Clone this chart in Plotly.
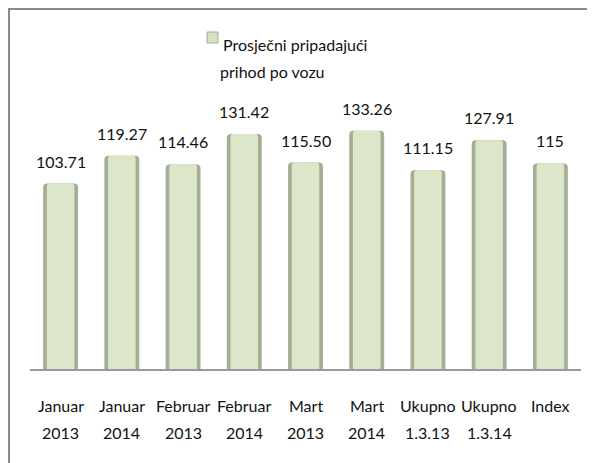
import plotly.graph_objects as go

categories = ["Januar 2013", "Januar 2014", "Februar 2013", "Februar 2014",
              "Mart 2013", "Mart 2014", "Ukupno 1.3.13", "Ukupno 1.3.14", "Index"]
label_line1 = ["Januar", "Januar", "Februar", "Februar", "Mart", "Mart", "Ukupno", "Ukupno", "Index"]
label_line2 = ["2013", "2014", "2013", "2014", "2013", "2014", "1.3.13", "1.3.14", ""]
values = [103.71, 119.27, 114.46, 131.42, 115.50, 133.26, 111.15, 127.91, 115]
value_labels = ["103.71", "119.27", "114.46", "131.42", "115.50", "133.26", "111.15", "127.91", "115"]
series_name_lines = ["Prosječni pripadajući", "prihod po vozu"]

OFF = 8  # default page body margin
W, H = 595 - OFF, 463 - OFF
ML, MR, MT, MB = 22, 14, 75, 94
PW, PH = W - ML - MR, H - MT - MB
FONT = "Lato, Noto Sans, sans-serif"
FS = 16


def px2x(px):
    return (px - OFF - ML) / PW


def py2y(py):
    return (H - MB - (py - OFF)) / PH


fig = go.Figure()
fig.add_trace(go.Bar(x=categories, y=values, width=0.57,
                     marker=dict(color="#a4ae97", line=dict(width=0), cornerradius=4),
                     hoverinfo="skip", showlegend=False))
fig.add_trace(go.Bar(x=categories, y=values, width=0.45,
                     marker=dict(color="#dce7ca", line=dict(width=0), cornerradius=3),
                     name=" ".join(series_name_lines), showlegend=False))

annotations = []
for c, v, t in zip(categories, values, value_labels):
    annotations.append(dict(x=c, y=v, xref="x", yref="y", text=t, showarrow=False,
                            yanchor="bottom", yshift=11,
                            font=dict(family=FONT, size=FS, color="#111111")))
for c, l1, l2 in zip(categories, label_line1, label_line2):
    annotations.append(dict(x=c, y=py2y(405), xref="x", yref="paper", text=l1, showarrow=False,
                            yanchor="middle", font=dict(family=FONT, size=FS, color="#111111")))
    if l2:
        annotations.append(dict(x=c, y=py2y(432), xref="x", yref="paper", text=l2, showarrow=False,
                                yanchor="middle", font=dict(family=FONT, size=FS, color="#111111")))

# legend text
annotations.append(dict(x=px2x(221), y=py2y(45), xref="paper", yref="paper",
                        text=series_name_lines[0], showarrow=False, xanchor="left", yanchor="middle",
                        font=dict(family=FONT, size=FS, color="#111111")))
annotations.append(dict(x=px2x(218), y=py2y(72), xref="paper", yref="paper",
                        text=series_name_lines[1], showarrow=False, xanchor="left", yanchor="middle",
                        font=dict(family=FONT, size=FS, color="#111111")))

shapes = [
    # chart border
    dict(type="rect", xref="paper", yref="paper",
         x0=px2x(9), x1=px2x(620), y0=py2y(9), y1=py2y(490),
         line=dict(color="#8a8a8a", width=2), fillcolor="rgba(0,0,0,0)", layer="below"),
    # legend key
    dict(type="rect", xref="paper", yref="paper",
         x0=px2x(207), x1=px2x(218), y0=py2y(43), y1=py2y(32),
         line=dict(color="#a4ae97", width=1), fillcolor="#d6e1c4"),
]

fig.update_layout(
    width=W, height=H,
    margin=dict(l=ML, r=MR, t=MT, b=MB),
    paper_bgcolor="white", plot_bgcolor="white",
    barmode="overlay",
    xaxis=dict(showticklabels=False, showgrid=False, zeroline=False,
               showline=True, linecolor="#9a9a9a", linewidth=2, ticks=""),
    yaxis=dict(range=[0, 160], visible=False, showgrid=False, zeroline=False),
    annotations=annotations,
    shapes=shapes,
)

fig.write_html("out.html")
